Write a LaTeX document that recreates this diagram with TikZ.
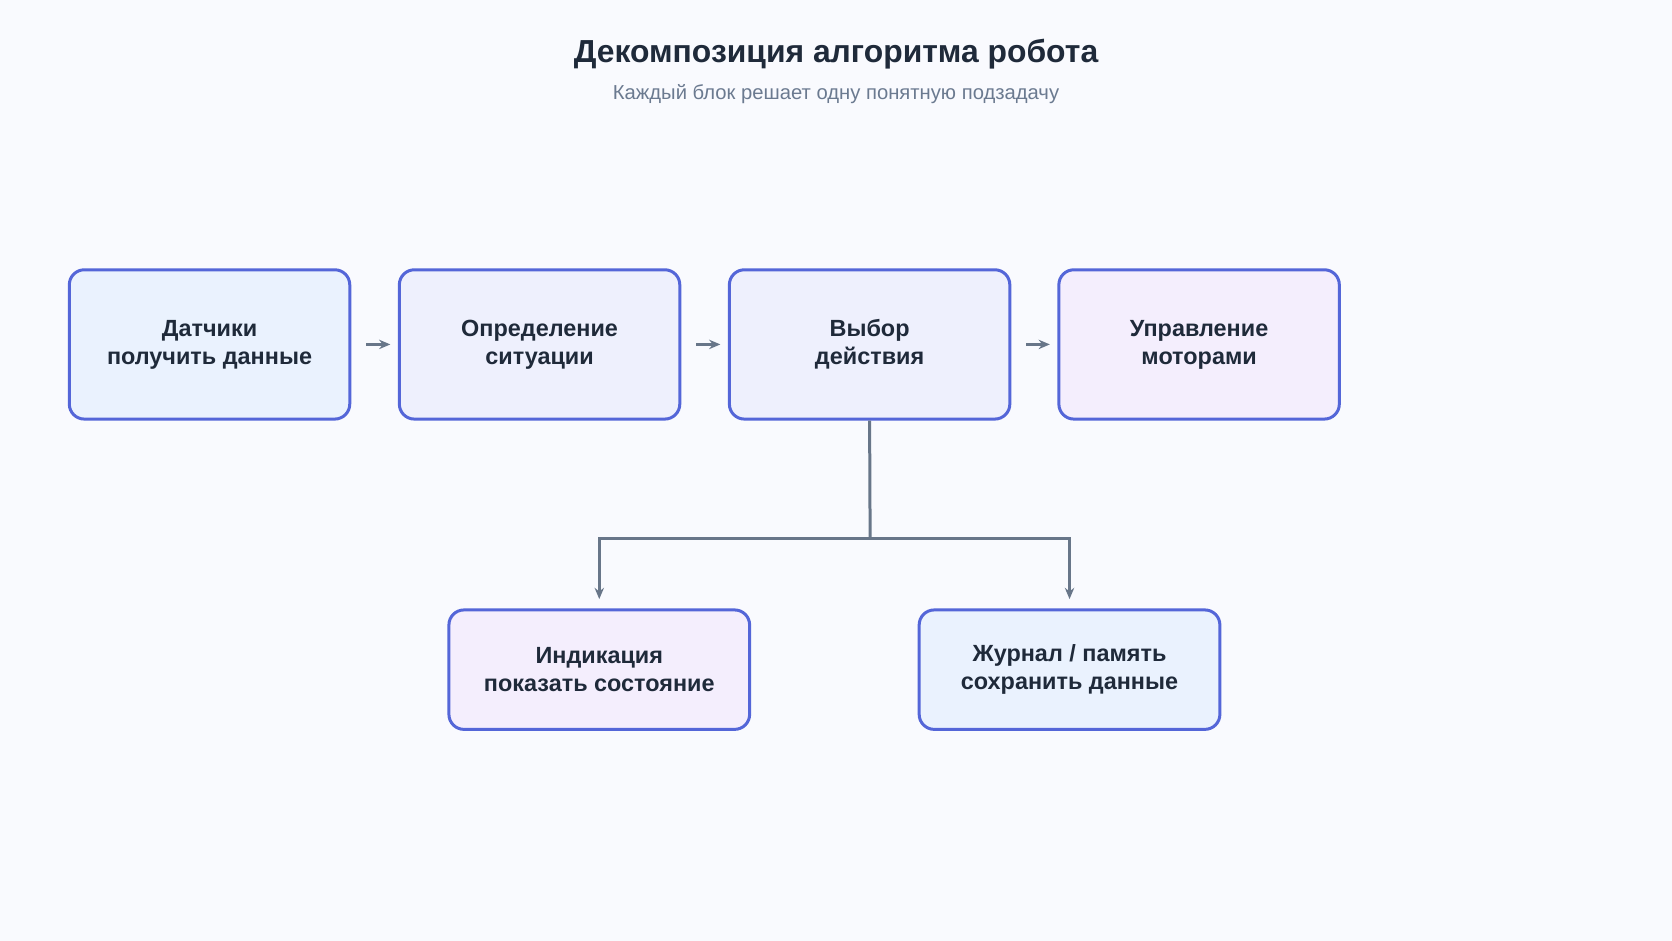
\documentclass[tikz,border=0pt]{standalone}
\usepackage{fontspec}
\setmainfont{Liberation Sans}
\usetikzlibrary{arrows.meta,positioning}
\definecolor{bgc}{HTML}{F9FAFE}
\definecolor{edgec}{HTML}{5466D8}
\definecolor{txtc}{HTML}{1F2A3A}
\definecolor{subc}{HTML}{6B7A90}
\definecolor{arrc}{HTML}{687689}
\definecolor{fillA}{HTML}{EAF2FE}
\definecolor{fillB}{HTML}{EEF0FD}
\definecolor{fillC}{HTML}{F4EEFD}
\begin{document}
\begin{tikzpicture}[x=0.02cm,y=-0.02cm,>={Stealth[length=6pt,width=5pt]}]
\tikzstyle{block}=[draw=edgec,line width=1.6pt,rounded corners=8pt,text=txtc,font=\fontsize{12.5}{15}\selectfont\bfseries,align=center,minimum width=263*0.02cm,minimum height=140*0.02cm]
\tikzstyle{link}=[->,draw=arrc,line width=1.6pt]

\fill[bgc] (0,0) rectangle (1568,882);
\node (title) at (784,51) [text=txtc,font=\fontsize{17}{20}\selectfont\bfseries] {Декомпозиция алгоритма робота};
\node (sub) at (784,88) [text=subc,font=\fontsize{10.8}{13}\selectfont] {Каждый блок решает одну понятную подзадачу};

\node[block,fill=fillA] (sens) at (196.5,323) {Датчики\\получить данные};
\node[block,fill=fillB] (sit)  at (506,323)   {Определение\\ситуации};
\node[block,fill=fillB] (act)  at (815.5,323) {Выбор\\действия};
\node[block,fill=fillC] (mot)  at (1124.5,323){Управление\\моторами};
\node[block,fill=fillC,minimum width=282*0.02cm,minimum height=112*0.02cm] (ind) at (562,628) {Индикация\\показать состояние};
\node[block,fill=fillA,minimum width=282*0.02cm,minimum height=112*0.02cm] (log) at (1003,628) {Журнал / память\\сохранить данные};

\path[link] ([xshift=8]sens.east) -- ([xshift=-4]sit.west);
\path[link] ([xshift=8]sit.east) -- ([xshift=-4]act.west);
\path[link] ([xshift=8]act.east) -- ([xshift=-4]mot.west);
\coordinate (fork) at (816,505);
\draw[draw=arrc,line width=1.6pt] (act.south) -- (fork);
\path[link] (fork) -| ([yshift=5]ind.north);
\path[link] (fork) -| ([yshift=5]log.north);
\end{tikzpicture}
\end{document}
